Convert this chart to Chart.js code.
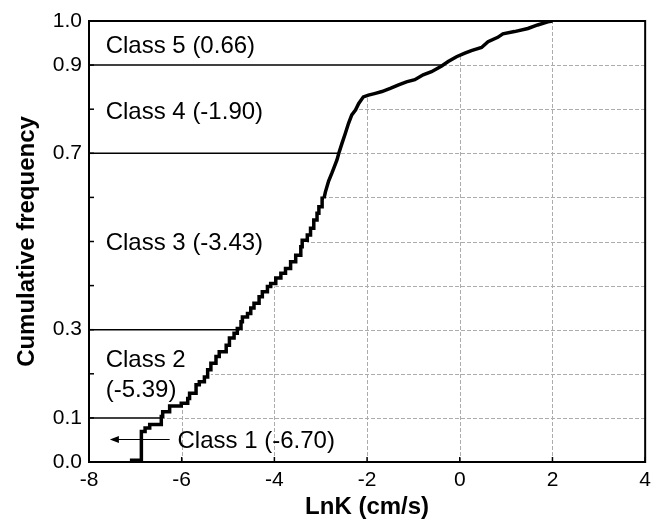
<!DOCTYPE html>
<html>
<head>
<meta charset="utf-8">
<script src="https://cdn.jsdelivr.net/npm/chart.js@4/dist/chart.umd.min.js"></script>
<style>
  html, body { margin: 0; padding: 0; background: #fff; }
</style>
</head>
<body>
<canvas id="cdfChart" width="657" height="519"></canvas>
<script>
// empirical cumulative distribution of LnK
var lnK = [-7.08, -6.87, -6.79, -6.69, -6.44, -6.41, -6.26, -6.01, -5.87, -5.83,
  -5.69, -5.62, -5.51, -5.44, -5.37, -5.26, -5.19, -5.04, -4.97, -4.87,
  -4.80, -4.72, -4.69, -4.58, -4.51, -4.44, -4.33, -4.26, -4.15, -4.08,
  -3.97, -3.86, -3.76, -3.65, -3.54, -3.43, -3.40, -3.29, -3.22, -3.15,
  -3.08, -3.04, -2.97, -2.93, -2.90, -2.83, -2.76, -2.72, -2.65, -2.61,
  -2.54, -2.47, -2.40, -2.33, -2.25, -2.18, -2.08, -1.97, -1.82, -1.68,
  -1.50, -1.32, -1.15, -0.97, -0.79, -0.61, -0.39, -0.25, -0.07, 0.11,
  0.25, 0.47, 0.61, 0.82, 0.93, 1.18, 1.47, 1.68, 1.90, 2.00];
var cumFreq = [0.000, 0.004, 0.069, 0.077, 0.085, 0.103, 0.114, 0.127, 0.133, 0.144,
  0.156, 0.175, 0.182, 0.193, 0.209, 0.224, 0.239, 0.250, 0.265, 0.281,
  0.292, 0.303, 0.318, 0.329, 0.337, 0.349, 0.360, 0.375, 0.386, 0.398,
  0.405, 0.417, 0.428, 0.439, 0.454, 0.469, 0.488, 0.503, 0.515, 0.530,
  0.549, 0.564, 0.579, 0.598, 0.612, 0.637, 0.655, 0.666, 0.685, 0.700,
  0.723, 0.745, 0.768, 0.787, 0.798, 0.813, 0.828, 0.832, 0.836, 0.840,
  0.847, 0.855, 0.862, 0.867, 0.878, 0.885, 0.898, 0.908, 0.919, 0.927,
  0.933, 0.940, 0.953, 0.963, 0.971, 0.976, 0.983, 0.991, 0.998, 1.000];
// below this index the curve is drawn as a staircase
var stepEnd = 43;

// class boundaries: level and where each line meets the curve
var classLevels = [0.1, 0.3, 0.7, 0.9];
var classLineEnds = [-6.41, -4.74, -2.61, -0.40];

// class labels and their anchor (data units)
var classText = ['Class 1 (-6.70)', 'Class 2', '(-5.39)', 'Class 3 (-3.43)', 'Class 4 (-1.90)', 'Class 5 (0.66)'];
var classTextX = [-6.09, -7.64, -7.64, -7.64, -7.64, -7.64];
var classTextY = [0.051, 0.235, 0.167, 0.500, 0.798, 0.947];

// arrow next to class 1
var arrowFrom = -6.26;
var arrowTo = -7.55;
var arrowLevel = 0.051;

var yLabelled = [0, 1, 3, 7, 9, 10];
var xMin = -8, xMax = 4;

var FONT = 'Arial, "Liberation Sans", sans-serif';

var curve = lnK.map(function (v, i) { return { x: v, y: cumFreq[i] }; });
var curveLow = curve.slice(0, stepEnd + 1);
var curveHigh = curve.slice(stepEnd);

function curveSet(pts, stepped) {
  return { data: pts, stepped: stepped, borderColor: '#000', borderWidth: 3.5, pointRadius: 0, fill: false };
}

var datasets = [curveSet(curveLow, 'after'), curveSet(curveHigh, false)];
classLevels.forEach(function (lv, i) {
  datasets.push({
    data: [{ x: xMin, y: lv }, { x: classLineEnds[i], y: lv }],
    borderColor: '#000',
    borderWidth: 1.5,
    pointRadius: 0,
    fill: false
  });
});

// dashed grid, only in the area below / right of the curve
var gridBelow = {
  id: 'gridBelow',
  beforeDatasetsDraw: function (chart) {
    var ctx = chart.ctx, xs = chart.scales.x, ys = chart.scales.y, a = chart.chartArea;
    ctx.save();
    ctx.beginPath();
    var prevY = ys.getPixelForValue(0);
    ctx.moveTo(xs.getPixelForValue(curve[0].x), prevY);
    curve.forEach(function (p, i) {
      var px = xs.getPixelForValue(p.x), py = ys.getPixelForValue(p.y);
      if (i <= stepEnd) ctx.lineTo(px, prevY);
      ctx.lineTo(px, py);
      prevY = py;
    });
    ctx.lineTo(a.right, ys.getPixelForValue(1));
    ctx.lineTo(a.right, a.bottom);
    ctx.closePath();
    ctx.clip();

    ctx.strokeStyle = '#acacac';
    ctx.lineWidth = 1;
    ctx.setLineDash([4, 2]);
    ys.ticks.forEach(function (t) {
      var py = Math.round(ys.getPixelForValue(t.value)) + 0.5;
      ctx.beginPath(); ctx.moveTo(a.left, py); ctx.lineTo(a.right, py); ctx.stroke();
    });
    xs.ticks.forEach(function (t) {
      var px = Math.round(xs.getPixelForValue(t.value)) + 0.5;
      ctx.beginPath(); ctx.moveTo(px, a.bottom); ctx.lineTo(px, a.top); ctx.stroke();
    });
    ctx.restore();
  }
};

var overlay = {
  id: 'overlay',
  afterDatasetsDraw: function (chart) {
    var ctx = chart.ctx, xs = chart.scales.x, ys = chart.scales.y, a = chart.chartArea;
    ctx.save();
    ctx.strokeStyle = '#000';
    ctx.lineWidth = 1.5;
    // inward tick marks
    xs.ticks.forEach(function (t) {
      var px = xs.getPixelForValue(t.value);
      ctx.beginPath(); ctx.moveTo(px, a.bottom); ctx.lineTo(px, a.bottom - 5); ctx.stroke();
    });
    ys.ticks.forEach(function (t) {
      var py = ys.getPixelForValue(t.value);
      ctx.beginPath(); ctx.moveTo(a.left, py); ctx.lineTo(a.left + 5, py); ctx.stroke();
    });
    // frame
    ctx.lineWidth = 2;
    ctx.strokeRect(a.left, a.top, a.right - a.left, a.bottom - a.top);

    // class labels
    ctx.fillStyle = '#000';
    ctx.font = '24px ' + FONT;
    ctx.textAlign = 'left';
    ctx.textBaseline = 'alphabetic';
    classText.forEach(function (s, i) {
      ctx.fillText(s, xs.getPixelForValue(classTextX[i]), ys.getPixelForValue(classTextY[i]) + 8.6);
    });

    // arrow
    var x0 = xs.getPixelForValue(arrowFrom), x1 = xs.getPixelForValue(arrowTo), y = ys.getPixelForValue(arrowLevel);
    ctx.lineWidth = 1;
    ctx.beginPath(); ctx.moveTo(x0, y); ctx.lineTo(x1 + 4, y); ctx.stroke();
    ctx.beginPath(); ctx.moveTo(x1, y); ctx.lineTo(x1 + 9, y - 3.5); ctx.lineTo(x1 + 9, y + 3.5); ctx.closePath(); ctx.fill();
    ctx.restore();
  }
};

var cdfChart = new Chart(document.getElementById('cdfChart').getContext('2d'), {
  type: 'line',
  data: { datasets: datasets },
  options: {
    responsive: false,
    animation: false,
    layout: { padding: { left: 0, right: 9, top: 21, bottom: 0 } },
    plugins: {
      legend: { display: false },
      tooltip: { enabled: false }
    },
    scales: {
      x: {
        type: 'linear',
        min: xMin,
        max: xMax,
        afterFit: function (s) { s.height = 57; },
        ticks: { stepSize: 2, padding: 6, color: '#000', font: { family: FONT, size: 21 } },
        grid: { display: false, drawTicks: false, tickLength: 0 },
        border: { display: false },
        title: { display: true, text: 'LnK (cm/s)', color: '#000', padding: { top: 0, bottom: 0 },
          font: { family: FONT, size: 24, weight: 'bold', lineHeight: 1 } }
      },
      y: {
        type: 'linear',
        min: 0,
        max: 1,
        afterFit: function (s) { s.width = 89; },
        ticks: {
          stepSize: 0.1,
          autoSkip: false,
          padding: 7,
          color: '#000',
          font: { family: FONT, size: 21 },
          callback: function (v) {
            var k = Math.round(v * 10);
            return yLabelled.indexOf(k) >= 0 ? (k / 10).toFixed(1) : '';
          }
        },
        grid: { display: false, drawTicks: false, tickLength: 0 },
        border: { display: false },
        title: { display: true, text: 'Cumulative frequency', color: '#000', padding: { top: 15, bottom: 0 },
          font: { family: FONT, size: 24, weight: 'bold', lineHeight: 1 } }
      }
    }
  },
  plugins: [gridBelow, overlay]
});
</script>
</body>
</html>
